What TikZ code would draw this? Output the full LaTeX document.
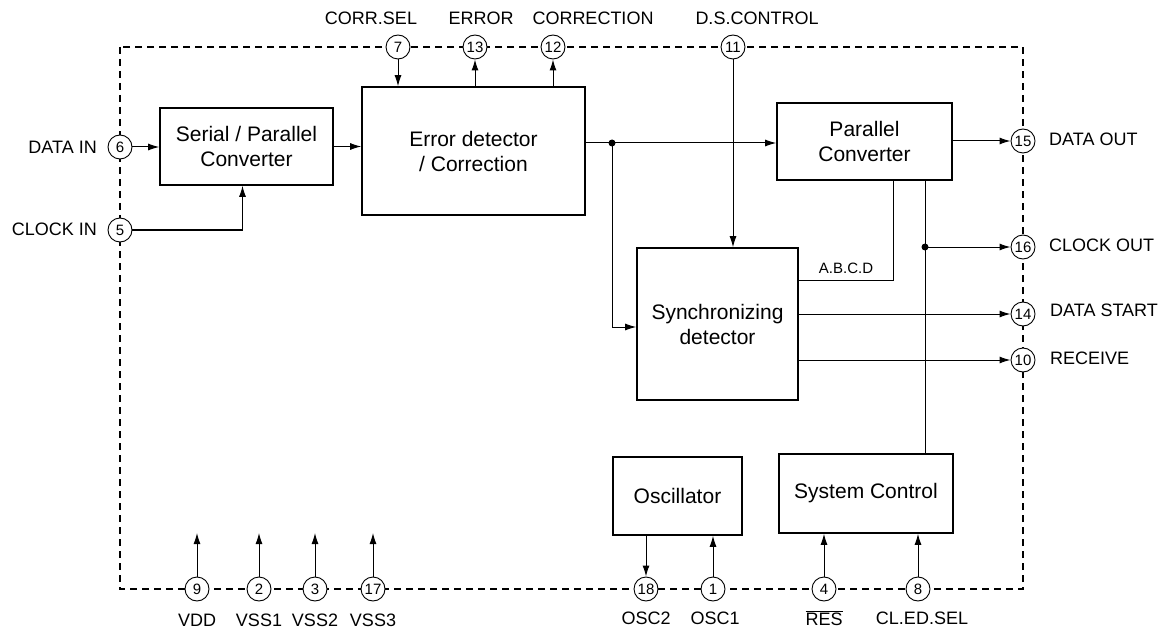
\documentclass[tikz,border=0pt]{standalone}
\usepackage{fontspec}
\setmainfont{Liberation Sans}
\usetikzlibrary{arrows.meta}

\begin{document}
\begin{tikzpicture}[x=1pt,y=-1pt,
  block/.style={draw,line width=1.6pt,align=center,inner sep=0pt,font=\fontsize{21}{25}\selectfont},
  pad/.style={draw,circle,fill=white,line width=0.9pt,minimum size=24pt,inner sep=0pt,font=\fontsize{15}{15}\selectfont},
  lbl/.style={inner sep=0pt,font=\fontsize{18}{20}\selectfont},
  wire/.style={line width=1pt},
  arr/.style={line width=1pt,-{Latex[length=11pt,width=7pt]}},
  dot/.style={circle,fill,inner sep=0pt,minimum size=7pt}]
\useasboundingbox (0,0) rectangle (1175,631);
\draw [line width=2pt,dash pattern=on 7pt off 5pt] (120,47) rectangle (1023,589);
\node [block,minimum width=173pt,minimum height=77pt] (sp) at (246.5,146.5) {Serial / Parallel\\Converter};
\node [block,minimum width=223pt,minimum height=128pt] (err) at (473.5,151) {Error detector\\/ Correction};
\node [block,minimum width=175pt,minimum height=77pt] (par) at (864.5,141.5) {Parallel\\Converter};
\node [block,minimum width=161pt,minimum height=152pt] (sync) at (717.5,324) {Synchronizing\\detector};
\node [block,minimum width=129pt,minimum height=78pt] (osc) at (677.5,496) {Oscillator};
\node [block,minimum width=174pt,minimum height=79pt] (sys) at (866,493.5) {System Control};
\node [pad] (p7) at (398,47) {7};
\node [pad] (p13) at (475,47) {13};
\node [pad] (p12) at (553,47) {12};
\node [pad] (p11) at (733,47) {11};
\node [pad] (p6) at (120,147) {6};
\node [pad] (p5) at (120,230) {5};
\node [pad] (p15) at (1023,141) {15};
\node [pad] (p16) at (1023,247) {16};
\node [pad] (p14) at (1023,314) {14};
\node [pad] (p10) at (1023,360) {10};
\node [pad] (p9) at (197,589) {9};
\node [pad] (p2) at (259,589) {2};
\node [pad] (p3) at (315,589) {3};
\node [pad] (p17) at (373,589) {17};
\node [pad] (p18) at (646,589) {18};
\node [pad] (p1) at (713,589) {1};
\node [pad] (p4) at (824,589) {4};
\node [pad] (p8) at (918,589) {8};
\node [lbl] (lcorrsel) at (371,18) {CORR.SEL};
\node [lbl] (lerror) at (481,18) {ERROR};
\node [lbl] (lcorr) at (593,18) {CORRECTION};
\node [lbl] (ldsc) at (757,18) {D.S.CONTROL};
\node [lbl,anchor=east] (ldatain) at (97,147) {DATA IN};
\node [lbl,anchor=east] (lclkin) at (97,229) {CLOCK IN};
\node [lbl,anchor=west] (ldataout) at (1049,139) {DATA OUT};
\node [lbl,anchor=west] (lclkout) at (1049,245) {CLOCK OUT};
\node [lbl,anchor=west] (ldstart) at (1050,310) {DATA START};
\node [lbl,anchor=west] (lrecv) at (1050,358) {RECEIVE};
\node [lbl] (lvdd) at (197,620) {VDD};
\node [lbl] (lvss1) at (259,620) {VSS1};
\node [lbl] (lvss2) at (315,620) {VSS2};
\node [lbl] (lvss3) at (373,620) {VSS3};
\node [lbl] (losc2) at (646,618) {OSC2};
\node [lbl] (losc1) at (715,618) {OSC1};
\node [lbl] (lres) at (824,618) {$\overline{\mbox{RES}}$};
\node [lbl] (lcled) at (922,618) {CL.ED.SEL};
\node [inner sep=0pt,font=\fontsize{15}{15}\selectfont] (labcd) at (846,268) {A.B.C.D};
\coordinate (split) at (612,143);
\coordinate (abcd) at (893,280);
\coordinate (clk) at (925,247);
\draw [arr] (p6) -- (sp.west |- p6);
\draw [arr] (p5) -| ([xshift=-4pt]sp.south);
\draw [arr] (sp.east) -- (sp.east -| err.west);
\draw [arr] (p7) -- (p7 |- err.north);
\draw [arr] (p13 |- err.north) -- (p13);
\draw [arr] (p12 |- err.north) -- (p12);
\draw [wire] (err.east |- split) -- (split);
\draw [arr] (split) -- (split -| par.west);
\draw [arr] (split) |- ([yshift=-3pt]sync.west);
\node [dot] (splitdot) at (split) {};
\draw [arr] (p11) -- (p11 |- sync.north);
\draw [wire] (abcd |- par.south) -- (abcd) -- (abcd -| sync.east);
\draw [wire] (clk |- par.south) -- (clk |- sys.north);
\draw [arr] (clk) -- (p16);
\node [dot] (clkdot) at (clk) {};
\draw [arr] (par.east |- p15) -- (p15);
\draw [arr] (sync.east |- p14) -- (p14);
\draw [arr] (sync.east |- p10) -- (p10);
\draw [arr] (p9) -- (p9 |- 0,533);
\draw [arr] (p2) -- (p2 |- 0,533);
\draw [arr] (p3) -- (p3 |- 0,533);
\draw [arr] (p17) -- (p17 |- 0,533);
\draw [arr] (p18 |- osc.south) -- (p18);
\draw [arr] (p1) -- (p1 |- osc.south);
\draw [arr] (p4) -- (p4 |- sys.south);
\draw [arr] (p8) -- (p8 |- sys.south);
\end{tikzpicture}
\end{document}
